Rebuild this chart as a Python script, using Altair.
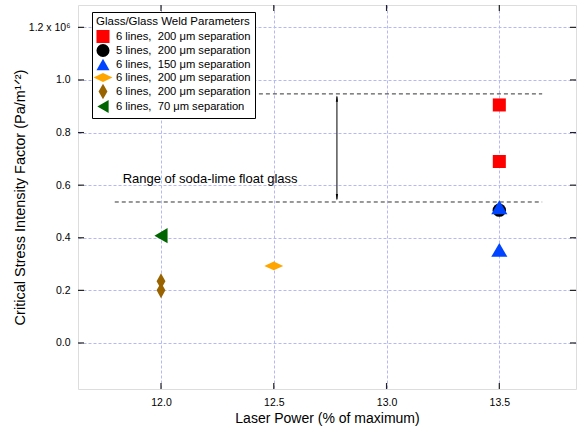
import altair as alt
import pandas as pd

# ---- data ----
series_keys = ["A", "A", "B", "C", "C", "D", "E", "E", "F"]
laser_power = [13.5, 13.5, 13.5, 13.5, 13.5, 12.5, 12.0, 12.0, 12.0]
k_ic = [0.905, 0.690, 0.505, 0.516, 0.354, 0.293, 0.235, 0.200, 0.408]

legend_keys = ["A", "B", "C", "D", "E", "F"]
legend_labels = [
    "6 lines,\u00a0 200 μm separation",
    "5 lines,\u00a0 200 μm separation",
    "6 lines,\u00a0 150 μm separation",
    "6 lines,\u00a0 200 μm separation",
    "6 lines,\u00a0 200 μm separation",
    "6 lines,\u00a0 70 μm separation",
]
legend_colors = ["#ff0000", "#000000", "#0044ff", "#ffa500", "#996300", "#006400"]
legend_shapes = [
    "square",
    "circle",
    "triangle-up",
    "M-1.45,0L0,-0.68L1.45,0L0,0.68Z",
    "M-0.68,0L0,-1.2L0.68,0L0,1.2Z",
    "triangle-left",
]
marker_sizes = {"A": 170, "B": 180, "C": 260, "D": 170, "E": 170, "F": 230}

x_ticks = [12.0, 12.5, 13.0, 13.5]
y_ticks = [0.0, 0.2, 0.4, 0.6, 0.8, 1.0, 1.2]

range_hi = 0.947
range_lo = 0.536
range_hi_x = [12.31, 13.69]
range_lo_x = [11.795, 13.69]
arrow_x = 12.78
annot_text = ["Range of soda-lime float glass"]
annot_x = [11.83]
annot_y = [0.625]

x_dom = [11.632, 13.84]
y_dom = [-0.175, 1.285]

FONT = "Liberation Sans"
W, H = 498, 384

df = pd.DataFrame({"series": series_keys, "x": laser_power, "y": k_ic})
df["sz"] = df["series"].map(marker_sizes)

xs = alt.Scale(domain=x_dom, nice=False, zero=False)
ys = alt.Scale(domain=y_dom, nice=False, zero=False)

label_expr = "[" + ",".join("'" + l + "'" for l in legend_labels) + "][indexof([" + \
    ",".join("'" + k + "'" for k in legend_keys) + "], datum.value)]"

points = alt.Chart(df).mark_point(filled=True, opacity=1, strokeWidth=0).encode(
    x=alt.X("x:Q", scale=xs, axis=alt.Axis(
        values=x_ticks, format=".1f", title="Laser Power (% of maximum)",
        grid=True, gridColor="#b4b8f4", gridDash=[3, 2], gridWidth=1,
        ticks=False, domain=False, labelPadding=8, labelFontSize=10.5,
        titleFontSize=14, titlePadding=4, labelFont=FONT, titleFont=FONT,
        titleFontWeight="normal", labelColor="#000", titleColor="#000")),
    y=alt.Y("y:Q", scale=ys, axis=alt.Axis(
        values=y_ticks, format=".1f",
        labelExpr="datum.value > 1.1 ? '1.2 x 10⁶' : format(datum.value, '.1f')",
        title="Critical Stress Intensity Factor (Pa/m¹ᐟ²)",
        grid=True, gridColor="#b4b8f4", gridDash=[3, 2], gridWidth=1,
        ticks=False, domain=False, labelPadding=8, labelFontSize=10.5,
        titleFontSize=14.5, titleX=-58, titleY=H / 2, titleAlign="center",
        titleBaseline="middle", labelFont=FONT, titleFont=FONT,
        titleFontWeight="normal", labelColor="#000", titleColor="#000")),
    color=alt.Color("series:N", scale=alt.Scale(domain=legend_keys, range=legend_colors),
                    legend=alt.Legend(
                        title="Glass/Glass Weld Parameters", labelExpr=label_expr,
                        orient="none", legendX=14, legendY=7,
                        strokeColor="#000", fillColor="#fff", padding=4,
                        titleFont=FONT, labelFont=FONT, titleFontSize=11.5,
                        titleFontWeight="normal", labelFontSize=11.2,
                        symbolSize=170, symbolStrokeWidth=0, rowPadding=0,
                        titlePadding=2, labelOffset=6, symbolOpacity=1,
                        labelColor="#000", titleColor="#000")),
    shape=alt.Shape("series:N", scale=alt.Scale(domain=legend_keys, range=legend_shapes)),
    size=alt.Size("sz:Q", scale=None, legend=None),
    order=alt.Order("series:N"),
)

# inward ticks
ytick_df = pd.DataFrame({"y": y_ticks})
xtick_df = pd.DataFrame({"x": x_ticks})
tick_color = "#222"
yl = alt.Chart(ytick_df).mark_rule(color=tick_color, strokeWidth=1.2).encode(
    y=alt.Y("y:Q", scale=ys), x=alt.value(0), x2=alt.value(6))
yr = alt.Chart(ytick_df).mark_rule(color=tick_color, strokeWidth=1.2).encode(
    y=alt.Y("y:Q", scale=ys), x=alt.value(W - 6), x2=alt.value(W))
xb = alt.Chart(xtick_df).mark_rule(color=tick_color, strokeWidth=1.2).encode(
    x=alt.X("x:Q", scale=xs), y=alt.value(H - 6), y2=alt.value(H))
xt = alt.Chart(xtick_df).mark_rule(color=tick_color, strokeWidth=1.2).encode(
    x=alt.X("x:Q", scale=xs), y=alt.value(0), y2=alt.value(6))

# range dashed lines
rng_df = pd.DataFrame({
    "x1": [range_hi_x[0], range_lo_x[0]],
    "x2": [range_hi_x[1], range_lo_x[1]],
    "y": [range_hi, range_lo],
})
rng = alt.Chart(rng_df).mark_rule(color="#333", strokeDash=[4, 3], strokeWidth=1).encode(
    x=alt.X("x1:Q", scale=xs), x2="x2:Q", y=alt.Y("y:Q", scale=ys))

arr_df = pd.DataFrame({"x": [arrow_x], "y1": [range_hi - 0.01], "y2": [range_lo + 0.01]})
arr = alt.Chart(arr_df).mark_rule(color="#000", strokeWidth=1).encode(
    x=alt.X("x:Q", scale=xs), y=alt.Y("y1:Q", scale=ys), y2="y2:Q")
head_top = alt.Chart(pd.DataFrame({"x": [arrow_x], "y": [range_hi - 0.018]})).mark_point(
    filled=True, color="#000", size=40, opacity=1, shape="M-0.35,1L0,-1L0.35,1Z").encode(
    x=alt.X("x:Q", scale=xs), y=alt.Y("y:Q", scale=ys))
head_bot = alt.Chart(pd.DataFrame({"x": [arrow_x], "y": [range_lo + 0.018]})).mark_point(
    filled=True, color="#000", size=40, opacity=1, shape="M-0.35,-1L0,1L0.35,-1Z").encode(
    x=alt.X("x:Q", scale=xs), y=alt.Y("y:Q", scale=ys))

annot_df = pd.DataFrame({"t": annot_text, "x": annot_x, "y": annot_y})
annot = alt.Chart(annot_df).mark_text(align="left", baseline="middle", font=FONT,
                                      fontSize=13, color="#000").encode(
    x=alt.X("x:Q", scale=xs), y=alt.Y("y:Q", scale=ys), text="t:N")

chart = alt.layer(yl, yr, xb, xt, rng, arr, head_top, head_bot, annot, points).properties(
    width=W, height=H,
    autosize=alt.AutoSizeParams(type="none"),
    padding={"left": 78, "top": 5, "right": 1, "bottom": 39},
).configure_view(stroke="#555", strokeWidth=1.5).configure(background="#ffffff")

chart.save("out.html", embed_options={"renderer": "svg", "actions": False})
